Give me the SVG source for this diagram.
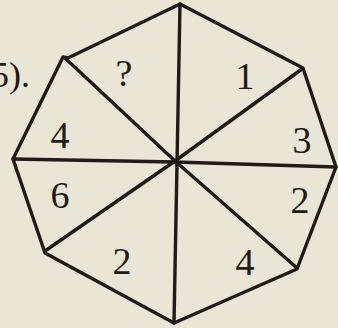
<svg xmlns="http://www.w3.org/2000/svg" width="338" height="328" viewBox="0 0 338 328">
<style>
.e{stroke:#1f1b17;stroke-width:3.4;fill:none;stroke-linejoin:round;stroke-linecap:round}
.t{font-family:"Liberation Serif",serif;font-size:38px;fill:#1f1b17;text-anchor:middle}
</style>
<rect width="338" height="328" fill="#e9e6d5"/>
<text x="-9" y="87" style="font-family:'Liberation Serif',serif;font-size:36px;fill:#1f1b17">5).</text>
<g id="octagon">
<polygon class="e" points="180,4 303,68 336,167 297,269 174,323 45,253 13,159 63,57 68,58"/>
</g>
<g id="connectors">
<line class="e" x1="180" y1="4" x2="174" y2="323"/>
<line class="e" x1="13" y1="159" x2="175" y2="162"/>
<line class="e" x1="175" y1="162" x2="336" y2="167"/>
<line class="e" x1="65" y1="58" x2="175" y2="161"/>
<line class="e" x1="175" y1="161" x2="297" y2="268"/>
<line class="e" x1="302" y1="69" x2="175" y2="161"/>
<line class="e" x1="175" y1="161" x2="45" y2="251"/>
</g>
<g id="labels">
<text class="t" x="124" y="86">?</text>
<text class="t" x="245" y="89">1</text>
<text class="t" x="302" y="153">3</text>
<text class="t" x="60" y="148">4</text>
<text class="t" x="60" y="208">6</text>
<text class="t" x="300" y="213">2</text>
<text class="t" x="122" y="274">2</text>
<text class="t" x="245" y="275">4</text>
</g>
</svg>
